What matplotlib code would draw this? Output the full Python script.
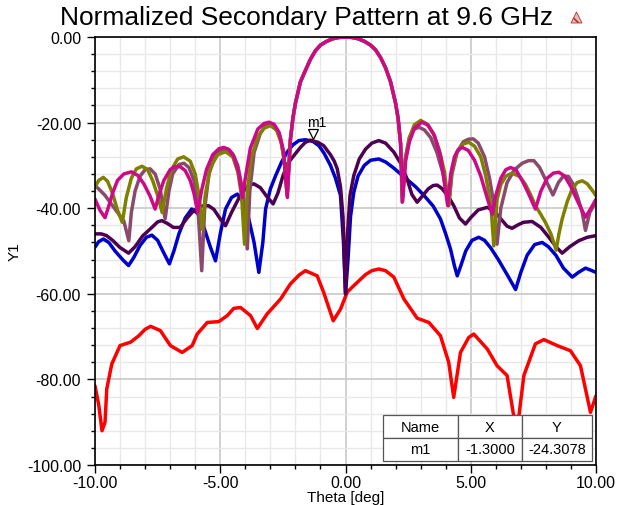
import matplotlib
matplotlib.use("Agg")
import matplotlib.pyplot as plt
import matplotlib.transforms as mtransforms
from matplotlib.patches import Polygon
from matplotlib.ticker import MultipleLocator, FormatStrFormatter

plt.rcParams['font.family'] = ['Liberation Sans', 'DejaVu Sans']
plt.rcParams['hatch.linewidth'] = 1.2

# ---- data (theta in deg, normalized level in dB) ----
red_x = [-10, -9.85, -9.72, -9.6, -9.53, -9.33, -9.0, -8.58, -8.25, -8.0, -7.78, -7.39, -6.99, -6.52,
         -6.12, -5.92, -5.52, -5.06, -4.72, -4.46, -4.19, -3.79, -3.52, -3.13, -2.59, -2.2, -1.85, -1.6,
         -1.13, -0.87, -0.49, -0.2, 0.07, 0.33, 0.8, 1.05, 1.33, 1.6, 1.93, 2.33, 2.86, 3.33, 3.79, 4.12,
         4.32, 4.59, 4.92, 5.12, 5.66, 6.05, 6.45, 6.7, 6.85, 7.12, 7.58, 7.92, 8.45, 8.98, 9.38,
         9.78, 10]
red_y = [-81.5, -86.0, -92.0, -90.0, -82.2, -76.4, -72.1, -71.3, -69.8, -68.3, -67.6, -68.6, -72.1, -73.7,
         -72.1, -69.4, -66.7, -66.5, -65.1, -63.4, -63.2, -65.1, -68.1, -64.7, -61.2, -57.7, -55.6, -54.6,
         -55.8, -59.7, -66.3, -63.6, -59.6, -58.1, -55.5, -54.6, -54.2, -54.6, -56.1, -61.2, -65.7, -66.7, -69.8, -76.0,
         -84.2, -73.7, -70.2, -69.4, -72.9, -76.8, -79.1, -88.0, -92.0, -79.1, -71.7, -70.7, -72.1, -73.3, -76.8,
         -87.7, -83.8]

blue_x = [-10, -9.85, -9.66, -9.45, -9.2, -8.9, -8.66, -8.45, -8.2, -7.95, -7.73, -7.5, -7.25, -7.03,
          -6.85, -6.65, -6.4, -6.14, -5.9, -5.65, -5.4, -5.19, -5.0, -4.79, -4.55, -4.32, -4.1, -3.86,
          -3.65, -3.46, -3.3, -3.19, -3.0, -2.79, -2.55, -2.33, -2.1, -1.86, -1.6, -1.3, -1.06, -0.85,
          -0.6, -0.4, -0.2, -0.08, 0, 0.1, 0.2, 0.33, 0.5, 0.75, 1.0, 1.33, 1.6, 1.9, 2.2, 2.5, 2.8,
          3.13, 3.5, 3.79, 4.0, 4.19, 4.35, 4.46, 4.6, 4.8, 5.05, 5.32, 5.55, 5.8, 6.1, 6.45, 6.79,
          7.0, 7.25, 7.55, 7.85, 8.1, 8.4, 8.7, 9.05, 9.3, 9.58, 9.8, 10]
blue_y = [-49.1, -47.8, -47.2, -48.0, -50.0, -52.0, -53.4, -51.5, -48.7, -46.8, -46.3, -47.5, -50.5, -53.0,
          -50.0, -46.0, -42.3, -40.2, -41.2, -44.5, -49.0, -52.3, -46.0, -40.2, -37.5, -36.7, -38.3, -42.5,
          -48.0, -55.0, -48.0, -40.2, -35.5, -32.4, -29.2, -26.9, -25.2, -24.2, -24.0, -24.4, -25.4, -27.2,
          -30.0, -33.0, -37.0, -48.0, -60.0, -52.0, -42.0, -36.3, -32.5, -30.0, -28.8, -28.5, -29.2, -30.5, -32.0, -33.5, -35.0,
          -37.0, -39.5, -42.5, -46.0, -49.5, -53.5, -55.8, -53.5, -50.0, -47.5, -46.8, -47.5, -49.3, -52.0, -55.5, -59.0,
          -55.0, -51.0, -48.5, -48.0, -49.0, -51.0, -54.0, -56.1, -55.0, -54.0, -54.5, -55.0]

purple_x = [-10, -9.75, -9.54, -9.3, -9.0, -8.66, -8.4, -8.1, -7.73, -7.5, -7.33, -7.1, -6.87, -6.6,
            -6.35, -6.07, -5.75, -5.47, -5.25, -5.0, -4.79, -4.55, -4.2, -3.9, -3.66, -3.4, -3.15,
            -2.89, -2.7, -2.5, -2.3, -2.06, -1.8, -1.6, -1.4, -1.3, -1.1, -0.87, -0.6, -0.45, -0.33,
            -0.2, -0.1, 0, 0.08, 0.18, 0.33, 0.55, 0.8, 1.05, 1.33, 1.6, 1.93, 2.2, 2.46, 2.65, 2.86,
            3.05, 3.3, 3.5, 3.66, 3.85, 4.1, 4.32, 4.55, 4.79, 5.0, 5.3, 5.66, 5.95, 6.2, 6.45, 6.65,
            6.85, 7.1, 7.45, 7.8, 8.12, 8.4, 8.65, 8.95, 9.31, 9.65, 10]
purple_y = [-46.0, -46.0, -46.4, -47.5, -49.2, -50.5, -49.0, -46.5, -44.5, -43.2, -42.9, -43.6, -44.5, -44.5,
            -42.5, -40.6, -39.5, -39.4, -40.3, -42.5, -44.1, -41.0, -37.0, -34.8, -34.3, -35.2, -37.2,
            -39.0, -36.5, -32.5, -29.5, -27.7, -25.8, -24.6, -24.1, -24.3, -24.6, -25.4, -27.5, -29.0, -30.8,
            -35.0, -42.0, -60.0, -46.0, -37.0, -32.4, -28.5, -26.2, -24.8, -24.2, -24.8, -26.9, -29.5, -33.2, -36.8, -38.6,
            -37.3, -35.5, -34.7, -34.6, -35.4, -37.2, -39.4, -42.3, -43.7, -42.2, -40.4, -39.8, -40.8, -42.5, -44.2, -44.7,
            -44.0, -43.3, -43.1, -44.5, -46.8, -49.0, -50.5, -49.0, -47.6, -46.8, -46.4]

mauve_x = [-10, -9.8, -9.6, -9.35, -9.1, -8.85, -8.65, -8.55, -8.4, -8.2, -8.0, -7.8, -7.6, -7.4,
           -7.2, -7.05, -6.9, -6.65, -6.45, -6.25, -6.05, -5.9, -5.74, -5.62, -5.45, -5.2, -4.95,
           -4.7, -4.5, -4.3, -4.1, -3.92, -3.82, -3.65, -3.4, -3.2, -3.0, -2.8, -2.6, -2.45, -2.33,
           -2.2, -2.1, -2.0, -1.8, -1.6, -1.4, -1.2, -1.0, -0.75, -0.5, -0.25, 0, 0.25, 0.5, 0.75,
           1.0, 1.2, 1.4, 1.6, 1.8, 2.0, 2.1, 2.2, 2.26, 2.38, 2.55, 2.75, 2.93, 3.15, 3.4, 3.65,
           3.9, 4.12, 4.25, 4.45, 4.7, 4.9, 5.1, 5.3, 5.55, 5.75, 5.95, 6.05, 6.2, 6.45, 6.75, 7.05,
           7.3, 7.52, 7.75, 8.0, 8.28, 8.5, 8.7, 8.9, 9.1, 9.3, 9.45, 9.58, 9.75, 10]
mauve_y = [-34.7, -35.8, -37.0, -39.0, -41.0, -43.0, -47.6, -41.0, -36.0, -32.5, -31.0, -30.8, -32.0, -35.5,
           -42.5, -36.0, -32.0, -29.8, -29.5, -30.5, -33.5, -39.0, -54.6, -40.0, -32.0, -27.8, -26.4,
           -26.2, -27.3, -30.0, -36.0, -49.5, -36.0, -27.0, -22.5, -20.7, -20.3, -21.0, -23.5, -28.5, -37.0,
           -24.0, -19.0, -15.5, -10.5, -7.8, -5.2, -3.2, -1.9, -1.0, -0.4, -0.1, 0.0, -0.1, -0.4, -1.0,
           -1.9, -3.0, -4.8, -7.2, -10.5, -15.5, -19.0, -25.0, -38.6, -28.5, -23.5, -21.5, -21.1, -21.7, -23.5, -27.0,
           -32.0, -39.4, -32.0, -27.0, -24.5, -23.9, -23.8, -24.8, -28.0, -33.0, -40.0, -48.4, -40.0, -34.0, -31.0, -29.5,
           -28.9, -28.9, -30.5, -33.5, -36.9, -34.0, -32.5, -32.6, -34.5, -38.0, -41.0, -45.2, -41.0, -38.5]

olive_x = [-10, -9.85, -9.67, -9.5, -9.3, -9.1, -8.91, -8.75, -8.55, -8.35, -8.12, -7.9, -7.7, -7.5,
           -7.32, -7.15, -6.95, -6.7, -6.46, -6.2, -6.0, -5.85, -5.72, -5.6, -5.4, -5.1, -4.79, -4.5,
           -4.3, -4.15, -4.03, -3.92, -3.75, -3.5, -3.25, -2.99, -2.75, -2.55, -2.42, -2.33,
           -2.2, -2.1, -2.0, -1.8, -1.6, -1.4, -1.2, -1.0, -0.75, -0.5, -0.25, 0, 0.25, 0.5, 0.75,
           1.0, 1.2, 1.4, 1.6, 1.8, 2.0, 2.1, 2.2, 2.28, 2.38, 2.55, 2.75, 3.0, 3.25, 3.5, 3.75,
           3.95, 4.12, 4.25, 4.45, 4.7, 4.92, 5.15, 5.4, 5.6, 5.8, 5.92, 6.05, 6.2, 6.4, 6.65, 6.95,
           7.19, 7.4, 7.58, 7.8, 7.98, 8.2, 8.41, 8.52, 8.65, 8.85, 9.05, 9.25, 9.45, 9.65, 9.85, 10]
olive_y = [-35.0, -33.5, -32.8, -33.7, -36.5, -40.5, -43.3, -37.5, -33.0, -30.8, -30.2, -31.0, -33.5, -37.0,
           -41.0, -35.5, -31.0, -28.5, -28.0, -29.0, -32.0, -37.0, -44.9, -37.0, -30.5, -27.5, -26.8, -28.0,
           -31.5, -37.0, -48.4, -36.0, -28.0, -23.3, -21.3, -20.7, -21.8, -25.0, -30.0, -37.0,
           -24.0, -19.0, -15.5, -10.5, -7.8, -5.2, -3.2, -1.9, -1.0, -0.4, -0.1, 0.0, -0.1, -0.4, -1.0,
           -1.9, -3.0, -4.8, -7.2, -10.5, -15.5, -19.0, -25.0, -37.5, -29.0, -23.5, -20.5, -19.5, -20.3, -22.5, -26.5,
           -31.5, -39.4, -31.0, -27.0, -25.0, -24.6, -25.5, -28.0, -32.5, -39.0, -48.8, -38.0, -34.5, -32.5, -31.8, -32.6,
           -34.5, -37.0, -39.4, -41.5, -43.3, -46.0, -49.8, -46.0, -42.5, -38.5, -35.5, -34.0, -33.6, -34.3, -35.8, -37.1]

magenta_x = [-10, -9.8, -9.6, -9.45, -9.3, -9.1, -8.85, -8.55, -8.3, -8.05, -7.8, -7.6, -7.45, -7.25,
             -7.0, -6.8, -6.6, -6.4, -6.2, -6.05, -5.9, -5.75, -5.55, -5.3, -5.05, -4.86, -4.65, -4.45,
             -4.25, -4.12, -4.0, -3.8, -3.5, -3.25, -3.05, -2.85, -2.65, -2.48, -2.32,
             -2.2, -2.1, -2.0, -1.8, -1.6, -1.4, -1.2, -1.0, -0.75, -0.5, -0.25, 0, 0.25, 0.5, 0.75,
             1.0, 1.2, 1.4, 1.6, 1.8, 2.0, 2.1, 2.2, 2.28, 2.4, 2.55, 2.75, 3.05, 3.3, 3.55, 3.8,
             4.08, 4.2, 4.35, 4.5, 4.66, 4.9, 5.15, 5.4, 5.65, 5.86, 6.0, 6.2, 6.4, 6.59, 6.8, 7.05,
             7.3, 7.58, 7.8, 8.05, 8.3, 8.52, 8.75, 9.0, 9.3, 9.58, 9.8, 10]
magenta_y = [-37.9, -40.5, -42.2, -39.5, -36.5, -33.5, -32.0, -31.5, -32.3, -34.3, -37.2, -40.2, -37.0, -33.5,
             -31.0, -30.3, -30.3, -31.2, -33.5, -36.5, -41.0, -36.0, -31.0, -27.5, -26.1, -25.8, -26.3, -28.0,
             -32.0, -37.5, -33.0, -26.0, -21.5, -20.2, -19.9, -20.4, -22.3, -26.5, -37.5,
             -24.0, -19.0, -15.5, -10.5, -7.8, -5.2, -3.2, -1.9, -1.0, -0.4, -0.1, 0.0, -0.1, -0.4, -1.0,
             -1.9, -3.0, -4.8, -7.2, -10.5, -15.5, -19.0, -25.0, -38.5, -29.0, -24.5, -21.3, -19.9, -20.6, -23.0, -28.0,
             -39.4, -32.0, -28.0, -26.3, -25.8, -26.5, -28.8, -32.5, -37.5, -41.4, -37.0, -33.0, -31.0, -30.5, -31.0, -33.5,
             -36.5, -40.2, -36.0, -33.0, -31.8, -31.6, -32.5, -35.0, -38.8, -42.1, -40.0, -37.9]

series = [
    (red_x, red_y, '#ff0000'),
    (blue_x, blue_y, '#0000cc'),
    (purple_x, purple_y, '#4d0052'),
    (mauve_x, mauve_y, '#8a4a6c'),
    (olive_x, olive_y, '#808000'),
    (magenta_x, magenta_y, '#cc0a88'),
]

marker_name = 'm1'
marker_x = -1.3
marker_y = -24.3078

table_cols = ['Name', 'X', 'Y']
table_rows = [['m1', '-1.3000', '-24.3078']]

title = 'Normalized Secondary Pattern at 9.6 GHz'
x_label = 'Theta [deg]'
y_label = 'Y1'

# ---- figure ----
fig = plt.figure(figsize=(6.17, 5.06), dpi=100)
ax = fig.add_axes([95 / 617, 40 / 506, 501 / 617, 428 / 506])

for xs, ys, c in series:
    ax.plot(xs, ys, color=c, lw=2.5, solid_joinstyle='round', solid_capstyle='round')

ax.set_xlim(-10, 10)
ax.set_ylim(-100, 0)
ax.xaxis.set_major_locator(MultipleLocator(5))
ax.xaxis.set_minor_locator(MultipleLocator(1))
ax.yaxis.set_major_locator(MultipleLocator(20))
ax.yaxis.set_minor_locator(MultipleLocator(4))
ax.xaxis.set_major_formatter(FormatStrFormatter('%.2f'))
ax.yaxis.set_major_formatter(FormatStrFormatter('%.2f'))
ax.grid(which='minor', color='#e8e8e8', lw=1.0)
ax.grid(which='major', color='#c8c8c8', lw=1.2)
ax.set_axisbelow(True)
ax.tick_params(which='major', direction='out', length=6, width=1, labelsize=11.5)
ax.tick_params(axis='x', which='major', pad=1.5)
ax.tick_params(axis='y', which='major', pad=4)
ax.tick_params(which='minor', direction='out', length=3, width=1)
ax.tick_params(top=False, right=False)
for sp in ax.spines.values():
    sp.set_linewidth(1.2)
    sp.set_color('black')

fig.text(307 / 617, 1 - 6 / 506, title, ha='center', va='top', fontsize=19)
ax.set_xlabel(x_label, fontsize=11, labelpad=0)
ax.set_ylabel(y_label, fontsize=11, labelpad=4)

# marker
off = mtransforms.offset_copy(ax.transData, fig=fig, x=0, y=5, units='points')
ax.plot([marker_x], [marker_y], marker='v', ms=7, mfc='white', mec='black', mew=0.9,
        transform=off, zorder=10, clip_on=False)
off2 = mtransforms.offset_copy(ax.transData, fig=fig, x=3, y=9, units='points')
ax.text(marker_x, marker_y, marker_name, transform=off2, ha='center', va='bottom',
        fontsize=10, zorder=10)

# marker table
tbl = ax.table(cellText=table_rows, colLabels=table_cols, cellLoc='center',
               colWidths=[75, 64, 70],
               bbox=[(383 - 95) / 501, (466 - 462) / 428, 209 / 501, 46 / 428], zorder=20)
tbl.auto_set_font_size(False)
tbl.set_fontsize(10.5)
for (r, c), cell in tbl.get_celld().items():
    cell.set_edgecolor('#555555')
    cell.set_linewidth(0.9)
    cell.set_facecolor('white')

# logo
tri = Polygon([[571, 494 - 12], [582, 494 - 12], [576.5, 494 - 1]], closed=True,
              transform=None, facecolor='#c8c8c8', edgecolor='#dd2222', hatch='\\\\\\', lw=0.6)
fig.patches.append(tri)

fig.savefig('out.png', dpi=100)
